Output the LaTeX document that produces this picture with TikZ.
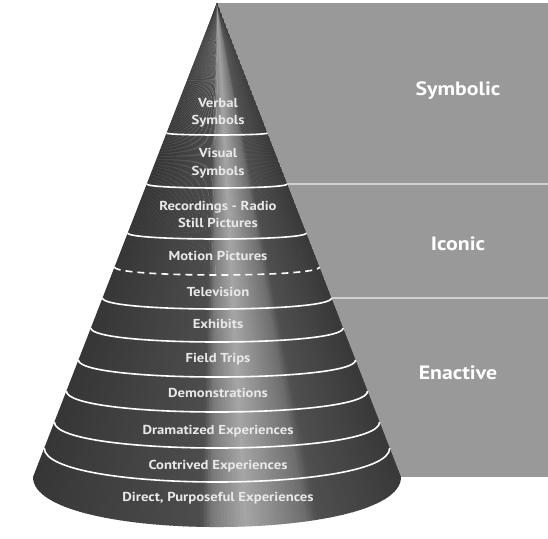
\documentclass[tikz,border=0pt]{standalone}
\usepackage{fontspec}
\setmainfont{PT Sans}
\newfontfamily\labelfont{PT Sans}[FakeStretch=1.13]
\usetikzlibrary{calc}
\definecolor{panelgray}{HTML}{999999}
\definecolor{dividergray}{HTML}{D0D0D0}
\definecolor{conetext}{HTML}{E8E8E8}
\begin{document}
\begin{tikzpicture}[x=1pt,y=-1pt,
  conelabel/.style={font=\labelfont\fontsize{13}{15}\selectfont\bfseries, text=conetext, anchor=base, inner sep=0pt},
  panellabel/.style={font=\labelfont\fontsize{19.3}{21}\selectfont\bfseries, text=white, anchor=base, inner sep=0pt},
  bandline/.style={draw=white, line width=1.6pt},
  dashline/.style={draw=white, line width=1.6pt, dash pattern=on 7pt off 5pt},
  divider/.style={draw=dividergray, line width=1.5pt}]
\useasboundingbox (0,0) rectangle (548,538);
\fill[white] (0,0) rectangle (548,538);
% panel
\coordinate (apex) at (217,3);
\coordinate (bl) at (33,477);
\coordinate (br) at (401,477);
\fill[panelgray] (218,3) rectangle (548,477);
\coordinate (d1a) at (217,184);
\coordinate (d1b) at (548,184);
\coordinate (d2a) at (217,298);
\coordinate (d2b) at (548,298);
\draw[divider] (d1a) -- (d1b);
\draw[divider] (d2a) -- (d2b);
% cone body
\begin{scope}
\clip (apex) -- (bl) .. controls +(0,66.7) and +(0,66.7) .. (br) -- cycle;
\foreach \i in {0,...,119} {
  \pgfmathsetmacro\s{(\i+0.5)/120}
  \pgfmathsetmacro\g{(\s<0.46) ? (0.21+0.09*\s/0.46) : ((\s<0.49) ? (0.30+(\s-0.46)/0.03*0.18) : ((\s<0.57) ? (0.48+(\s-0.49)/0.08*0.17) : ((\s<0.72) ? (0.65-(\s-0.57)/0.15*0.22) : ((\s<0.75) ? (0.43-(\s-0.72)/0.03*0.12) : (0.31-(\s-0.75)/0.25*0.09)))))}
  \pgfmathsetmacro\p{100*(1-\g)}
  \pgfmathsetmacro\xa{217+(33+3.066667*\i-217)*1.1751}
  \pgfmathsetmacro\xb{217+(33+3.066667*(\i+1)+0.8-217)*1.1751}
  \fill[black!\p] (apex) -- (\xa,560) -- (\xb,560) -- cycle;
}
\end{scope}
% band lines
\foreach \yc/\d/\sty [count=\k] in {135/2/bandline,188/4/bandline,239/6/bandline,275/8/dashline,309/11/bandline,342/14/bandline,377/17/bandline,412/21/bandline,448/26/bandline,482/34/bandline} {
  \pgfmathsetmacro\ye{\yc-\d}
  \pgfmathsetmacro\hw{(\ye-3)*0.388186}
  \pgfmathsetmacro\b{4*\d/3}
  \coordinate (L\k) at ({217-\hw},\ye);
  \coordinate (R\k) at ({217+\hw},\ye);
  \draw[\sty] (L\k) .. controls +(0,\b) and +(0,\b) .. (R\k);
}
% cone labels
\node[conelabel] (verbal1) at (218,107) {Verbal};
\node[conelabel] (verbal2) at (218,124) {Symbols};
\node[conelabel] (visual1) at (218,157) {Visual};
\node[conelabel] (visual2) at (218,175) {Symbols};
\node[conelabel] (rec1) at (218,210) {Recordings - Radio};
\node[conelabel] (rec2) at (218,227) {Still Pictures};
\node[conelabel] (motion) at (218,260) {Motion Pictures};
\node[conelabel] (tv) at (218,296) {Television};
\node[conelabel] (exhibits) at (218,328) {Exhibits};
\node[conelabel] (field) at (218,362) {Field Trips};
\node[conelabel] (demo) at (218,397) {Demonstrations};
\node[conelabel] (drama) at (218,434) {Dramatized Experiences};
\node[conelabel] (contrived) at (218,469) {Contrived Experiences};
\node[conelabel] (direct) at (218,501) {Direct, Purposeful Experiences};
% panel labels
\node[panellabel] (symbolic) at (458,95) {Symbolic};
\node[panellabel] (iconic) at (458,250) {Iconic};
\node[panellabel] (enactive) at (458,379) {Enactive};
\end{tikzpicture}
\end{document}
